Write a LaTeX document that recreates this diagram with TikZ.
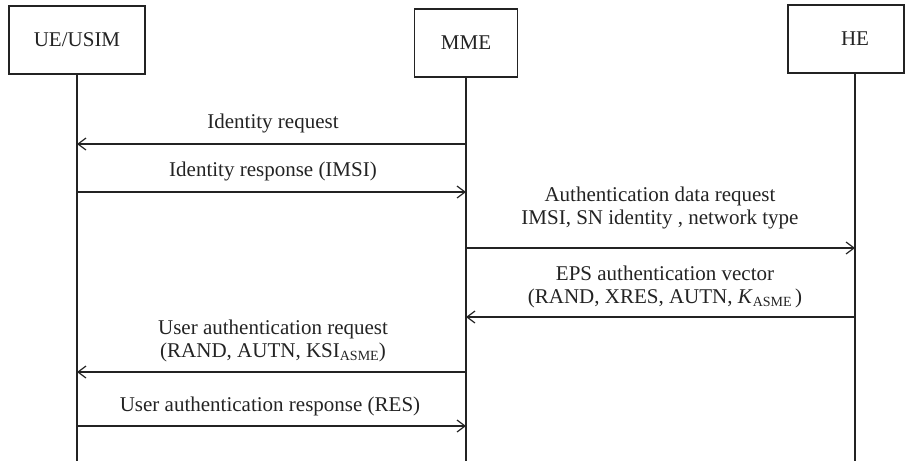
\documentclass[tikz,border=0pt]{standalone}
\usepackage{fontspec}
\setmainfont{Liberation Serif}
\usetikzlibrary{arrows.meta}
\newcommand{\subtxt}[1]{\raisebox{-3pt}{\fontsize{14}{14}\selectfont #1}}
\definecolor{ink}{RGB}{35,35,35}
\begin{document}
\begin{tikzpicture}[x=1pt,y=-1pt,
  actor/.style={draw=ink, line width=1.2pt, minimum height=68pt, inner sep=0pt, text=ink, font=\fontsize{21}{24}\selectfont},
  life/.style={draw=ink, line width=1.2pt},
  msg/.style={draw=ink, line width=1.2pt, -{Straight Barb[length=8pt,width=12pt]}},
  lbl/.style={font=\fontsize{21}{24}\selectfont, text=ink, inner sep=0pt, anchor=base}
]
\useasboundingbox (0,0) rectangle (905,461);
\clip (0,0) rectangle (905,461);

% actors
\node[actor, minimum width=136pt] (ue) at (77,40) {UE/USIM};
\node[actor, minimum width=103pt] (mme) at (466,43) {MME};
\node[actor, minimum width=116pt] (he) at (846,39) {\hspace*{18pt}HE};

% lifeline ends
\coordinate (ueB) at (77,461);
\coordinate (mmeB) at (466,461);
\coordinate (heB) at (855,461);

\draw[life] (ue.south) -- (ueB);
\draw[life] (mme.south) -- (mmeB);
\draw[life] (he.south -| heB) -- (heB);

% messages
\draw[msg] (mme |- 0,144) -- (ue |- 0,144);
\node[lbl] (t1) at (273,128) {Identity request};

\draw[msg] (ue |- 0,192) -- (mme |- 0,192);
\node[lbl] (t2) at (273,176) {Identity response (IMSI)};

\draw[msg] (mme |- 0,248) -- (heB |- 0,248);
\node[lbl] (t3a) at (660,201) {Authentication data request};
\node[lbl] (t3b) at (660,224) {IMSI, SN identity , network type};

\draw[msg] (heB |- 0,317) -- (mme |- 0,317);
\node[lbl] (t4a) at (665,280) {EPS authentication vector};
\node[lbl] (t4b) at (665,303) {(RAND, XRES, AUTN, \textit{K}\subtxt{ASME}\,)};

\draw[msg] (mme |- 0,372) -- (ue |- 0,372);
\node[lbl] (t5a) at (273,334) {User authentication request};
\node[lbl] (t5b) at (273,357) {(RAND, AUTN, KSI\subtxt{ASME})};

\draw[msg] (ue |- 0,426) -- (mme |- 0,426);
\node[lbl] (t6) at (270,411) {User authentication response (RES)};
\end{tikzpicture}
\end{document}
